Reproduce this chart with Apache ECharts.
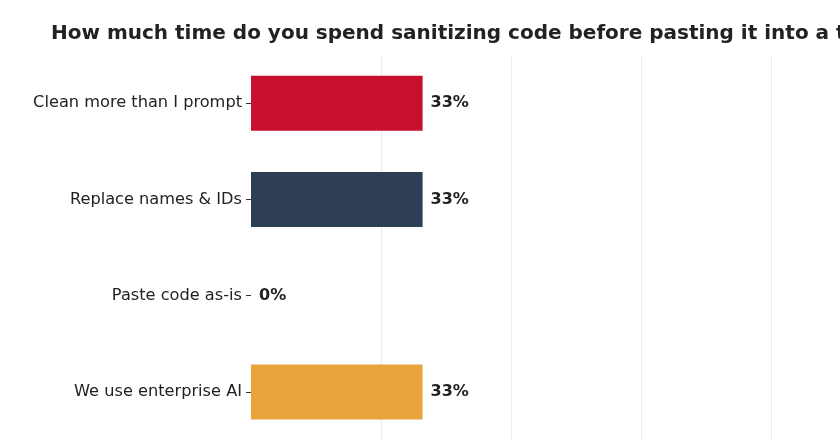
<!DOCTYPE html>
<html>
<head>
<meta charset="utf-8">
<script src="https://cdn.jsdelivr.net/npm/echarts@6/dist/echarts.min.js"></script>
<style>html,body{margin:0;padding:0;background:#fff;}#c{width:840px;height:448px;}</style>
</head>
<body>
<div id="c"></div>
<script>
var categories = ['Clean more than I prompt', 'Replace names & IDs', 'Paste code as-is', 'We use enterprise AI'];
var values = [33, 33, 0, 33];
var barColors = ['#C70F2E', '#2D3E55', '#888888', '#E8A33D'];
var xTicks = [0, 25, 50, 75, 100];
var FONT = '"DejaVu Sans", sans-serif';

var chart = echarts.init(document.getElementById('c'), null, {renderer: 'canvas'});
chart.setOption({
  animation: false,
  title: {
    text: 'How much time do you spend sanitizing code before pasting it into a tool?',
    left: 46, top: 19,
    textStyle: {fontFamily: FONT, fontWeight: 'bold', fontSize: 20, color: '#222222'}
  },
  grid: {left: 251, right: 69, top: 55, bottom: 8, containLabel: false},
  xAxis: {
    type: 'value', min: xTicks[0], max: xTicks[xTicks.length - 1], interval: 25,
    axisLabel: {show: false}, axisLine: {show: false}, axisTick: {show: false},
    splitLine: {show: true, lineStyle: {color: ['transparent', '#ebebeb', '#ebebeb', '#ebebeb', '#ebebeb'], width: 1}}
  },
  yAxis: {
    type: 'category', data: categories, inverse: true,
    axisLine: {show: false},
    axisTick: {show: true, length: 5, alignWithLabel: true, lineStyle: {color: '#333333'}},
    axisLabel: {margin: 9, fontFamily: FONT, fontSize: 16.2, color: '#222222'}
  },
  series: [{
    type: 'bar', barWidth: 55,
    data: values.map(function (v, i) { return {value: v, itemStyle: {color: barColors[i]}}; }),
    label: {
      show: true, position: 'right', distance: 8,
      formatter: function (p) { return p.value + '%'; },
      fontFamily: FONT, fontWeight: 'bold', fontSize: 16, color: '#222222'
    }
  }]
});
</script>
</body>
</html>
